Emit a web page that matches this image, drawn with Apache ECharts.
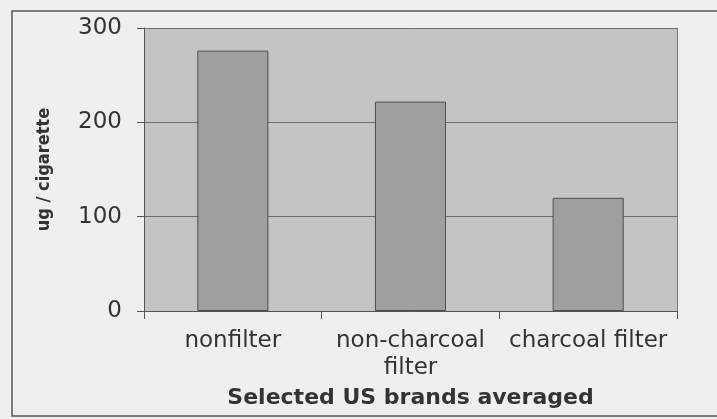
<!DOCTYPE html>
<html>
<head>
<meta charset="utf-8">
<script src="https://cdn.jsdelivr.net/npm/echarts@6/dist/echarts.min.js"></script>
<style>
  html, body { margin: 0; padding: 0; background: #efefeb; }
  #chart { width: 717px; height: 419px; }
</style>
</head>
<body>
<div id="chart"></div>
<script>
// values
const categories = ['nonfilter', 'non-charcoal\nfilter', 'charcoal filter'];
const values = [276, 222, 120];
const yTicks = [0, 100, 200, 300];

document.addEventListener('DOMContentLoaded', function () {
    const chart = echarts.init(document.getElementById('chart'));

    const option = {
        backgroundColor: '#efefeb',
        animation: false,
        textStyle: { fontFamily: 'DejaVu Sans, sans-serif' },
        grid: {
            left: 144,
            right: 40,
            top: 28,
            bottom: 108,
            show: true,
            backgroundColor: '#c6c4c1',
            borderWidth: 0
        },
        graphic: [
            {
                type: 'rect',
                shape: { x: 12, y: 11, width: 730, height: 405 },
                style: { fill: 'none', stroke: '#555', lineWidth: 1.5 },
                silent: true
            },
            {
                // right edge of plot area
                type: 'line',
                shape: { x1: 677.5, y1: 28, x2: 677.5, y2: 311 },
                style: { stroke: '#777', lineWidth: 1 },
                silent: true
            }
        ],
        xAxis: {
            type: 'category',
            data: categories,
            name: 'Selected US brands averaged',
            nameLocation: 'middle',
            nameGap: 75,
            nameTextStyle: { fontSize: 22, fontWeight: 'bold', color: '#333' },
            axisLine: { lineStyle: { color: '#555', width: 1 } },
            axisTick: { show: true, alignWithLabel: false, length: 8, lineStyle: { color: '#555' } },
            axisLabel: { fontSize: 23, color: '#333', margin: 17, lineHeight: 27, interval: 0 }
        },
        yAxis: {
            type: 'value',
            min: yTicks[0],
            max: yTicks[yTicks.length - 1],
            interval: 100,
            name: 'ug / cigarette',
            nameLocation: 'middle',
            nameGap: 91,
            nameRotate: 90,
            nameTextStyle: {
                fontSize: 18,
                fontWeight: 'bold',
                color: '#333',
                fontFamily: 'DejaVu Sans Condensed, Liberation Sans, sans-serif'
            },
            axisLine: { show: true, lineStyle: { color: '#555', width: 1 } },
            axisTick: { show: true, length: 7, lineStyle: { color: '#555' } },
            axisLabel: { fontSize: 23, color: '#333', margin: 22 },
            splitLine: { show: true, lineStyle: { color: '#6e6c6a', width: 1 } }
        },
        series: [
            {
                type: 'bar',
                data: values,
                barCategoryGap: '60%',
                itemStyle: {
                    color: '#a19f9d',
                    borderColor: '#4d4d4d',
                    borderWidth: 1
                }
            }
        ]
    };

    chart.setOption(option);
});
</script>
</body>
</html>
